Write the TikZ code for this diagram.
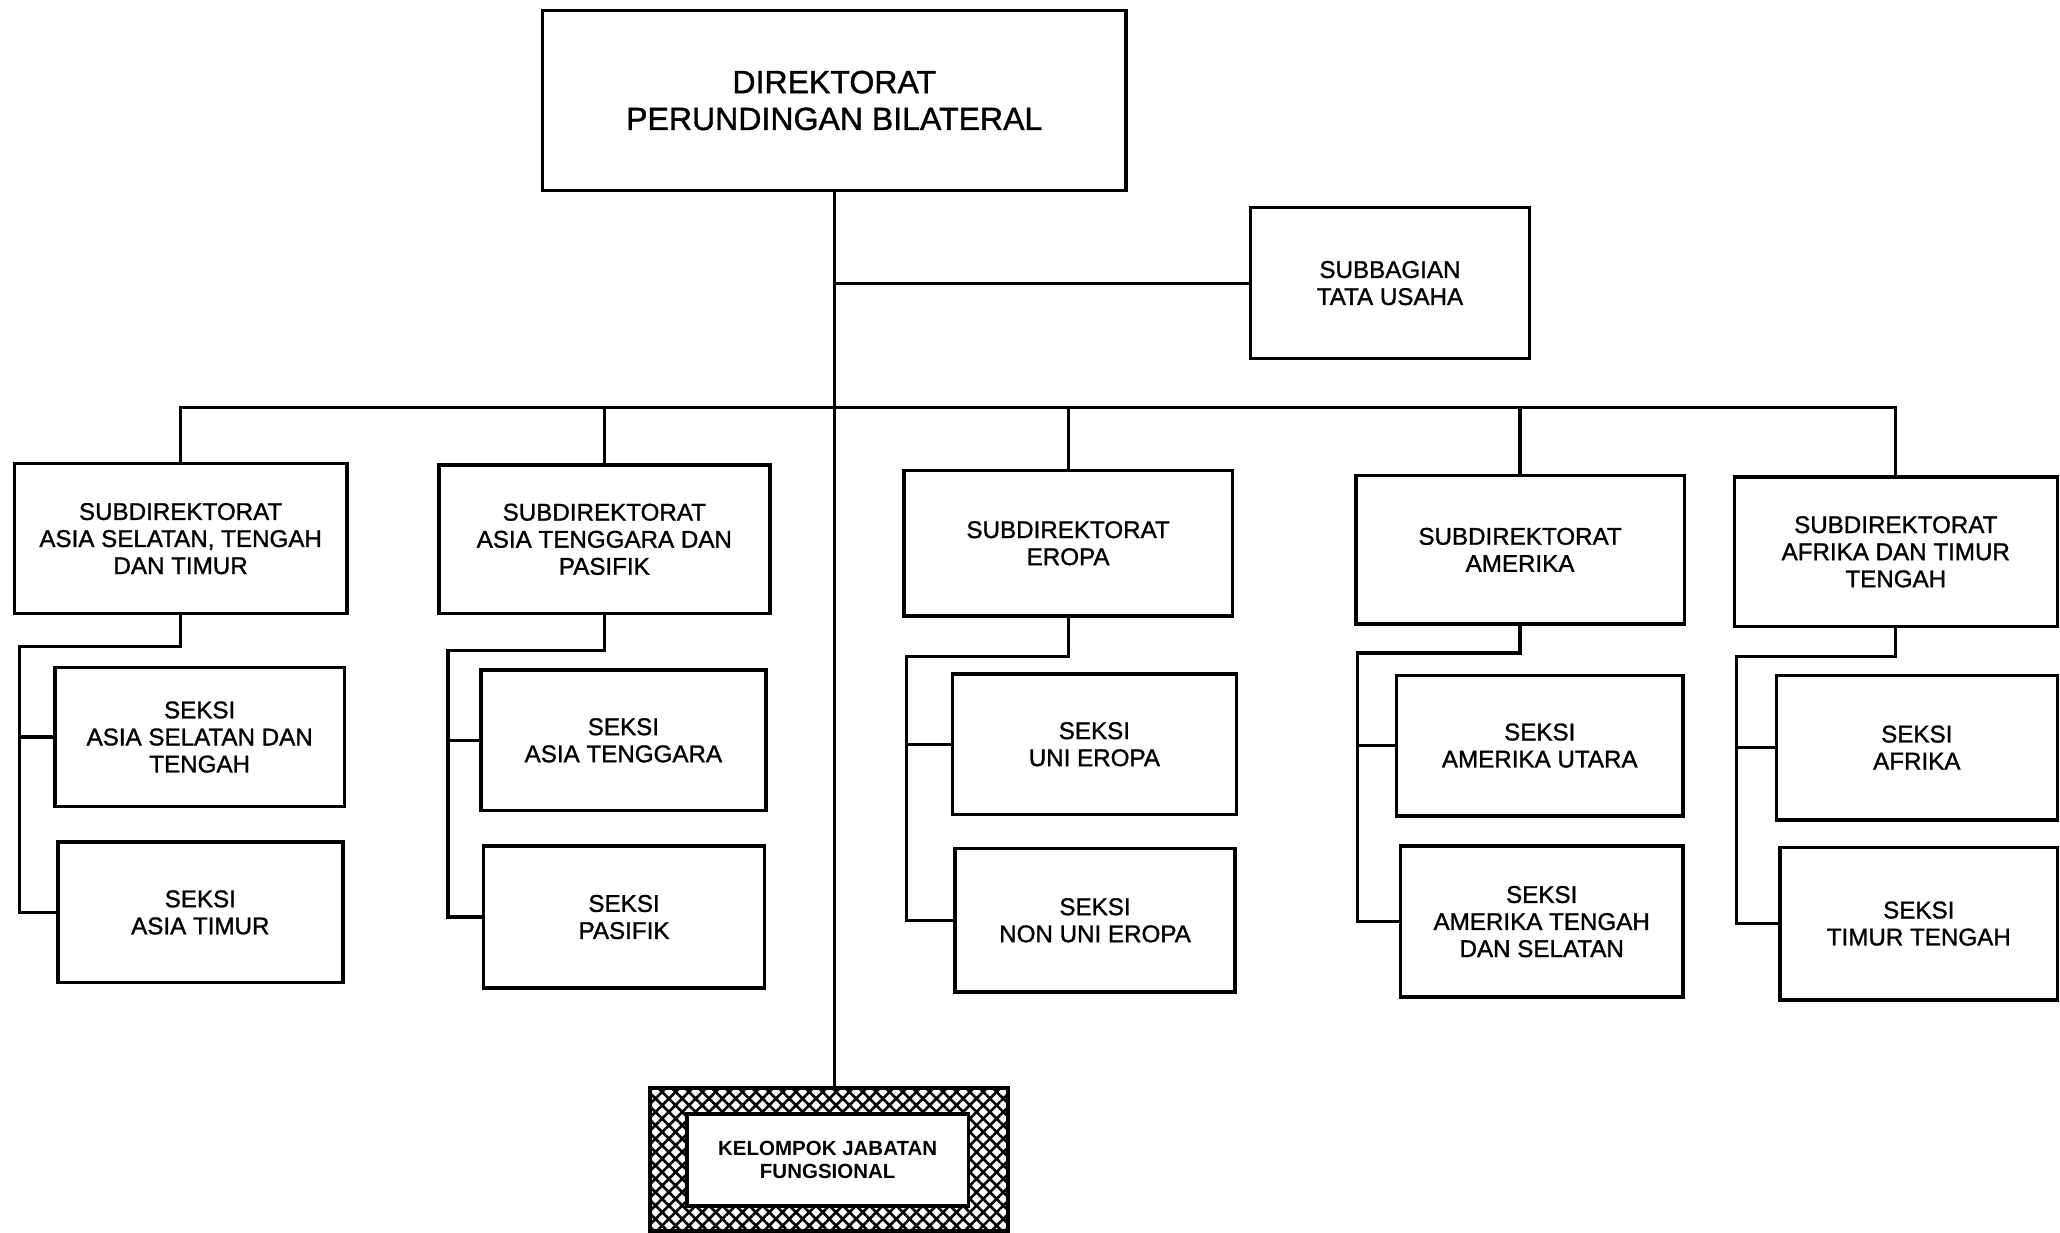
\documentclass[tikz,border=0pt]{standalone}
\usepackage{fontspec}
\setmainfont{Liberation Sans}[BoldFont=Liberation Sans, BoldFeatures={FakeBold=1.2}]
\newfontfamily\kjffont{Liberation Sans Bold}
\usetikzlibrary{patterns.meta}
\newcommand\orgbox[7]{\node[#7,minimum width={(#4-#2)*0.5pt},minimum height={(#5-#3)*0.5pt}] (#1) at ({(#2+#4)/2},{(#3+#5)/2}) {#6};}
\tikzset{
  unitbox/.style={draw, line width=1.3pt, align=center, inner sep=0pt, fill=white,
    font=\fontsize{9.2}{10.3}\selectfont\bfseries},
  topbox/.style={unitbox, font=\fontsize{12.2}{14}\selectfont\bfseries},
  hatchbox/.style={draw, line width=1.5pt, inner sep=0pt,
    pattern={Hatch[angle=45,distance=3.6pt,line width=1.0pt]}},
  innerbox/.style={draw, line width=1.3pt, fill=white, align=center, inner sep=0pt,
    font=\fontsize{7.8}{9}\selectfont\kjffont},
  conn/.style={line width=1.2pt},
}
\begin{document}
\begin{tikzpicture}[x=0.5pt,y=-0.5pt]
\useasboundingbox (0,0) rectangle (1568,938);
% top level
\orgbox{top}{413}{8}{857}{145}{DIREKTORAT\\PERUNDINGAN BILATERAL}{topbox}
\orgbox{sub}{952}{158}{1164}{273}{SUBBAGIAN\\TATA USAHA}{unitbox}
% subdirektorat
\orgbox{s1}{11}{353}{264}{467}{SUBDIREKTORAT\\ASIA SELATAN, TENGAH\\DAN TIMUR}{unitbox}
\orgbox{s2}{334}{354}{586}{467}{SUBDIREKTORAT\\ASIA TENGGARA DAN\\PASIFIK}{unitbox}
\orgbox{s3}{688}{358}{938}{469}{SUBDIREKTORAT\\EROPA}{unitbox}
\orgbox{s4}{1032}{362}{1282}{475}{SUBDIREKTORAT\\AMERIKA}{unitbox}
\orgbox{s5}{1320}{363}{1566}{477}{SUBDIREKTORAT\\AFRIKA DAN TIMUR\\TENGAH}{unitbox}
% seksi
\orgbox{a1}{42}{508}{262}{614}{SEKSI\\ASIA SELATAN DAN\\TENGAH}{unitbox}
\orgbox{b1}{44}{641}{261}{748}{SEKSI\\ASIA TIMUR}{unitbox}
\orgbox{a2}{366}{510}{583}{617}{SEKSI\\ASIA TENGGARA}{unitbox}
\orgbox{b2}{368}{644}{582}{752}{SEKSI\\PASIFIK}{unitbox}
\orgbox{a3}{725}{513}{941}{620}{SEKSI\\UNI EROPA}{unitbox}
\orgbox{b3}{727}{646}{940}{755}{SEKSI\\NON UNI EROPA}{unitbox}
\orgbox{a4}{1063}{514}{1281}{621}{SEKSI\\AMERIKA UTARA}{unitbox}
\orgbox{b4}{1066}{644}{1281}{759}{SEKSI\\AMERIKA TENGAH\\DAN SELATAN}{unitbox}
\orgbox{a5}{1352}{514}{1566}{624}{SEKSI\\AFRIKA}{unitbox}
\orgbox{b5}{1355}{645}{1566}{761}{SEKSI\\TIMUR TENGAH}{unitbox}
% kelompok jabatan fungsional
\orgbox{kjf}{495}{828}{767}{937}{}{hatchbox}
\orgbox{kjfin}{523}{848}{737}{918}{KELOMPOK JABATAN\\FUNGSIONAL}{innerbox}
% connectors
\coordinate (bus) at (0,310);
\draw[conn] (top.south) -- (top.south |- kjf.north);
\draw[conn] (top.south |- sub.west) -- (sub.west);
\draw[conn] (s1.north) -- (s1.north |- bus) -- (s5.north |- bus) -- (s5.north);
\foreach \s in {s2,s3,s4}{\draw[conn] (\s.north) -- (\s.north |- bus);}
\coordinate (j1) at (15,492);
\coordinate (j2) at (341,495);
\coordinate (j3) at (690,500);
\coordinate (j4) at (1033,497);
\coordinate (j5) at (1322,500);
\foreach \i in {1,...,5}{
  \draw[conn] (s\i.south) |- (j\i) -- (j\i |- b\i.west) -- (b\i.west);
  \draw[conn] (j\i |- a\i.west) -- (a\i.west);
}
\end{tikzpicture}
\end{document}
